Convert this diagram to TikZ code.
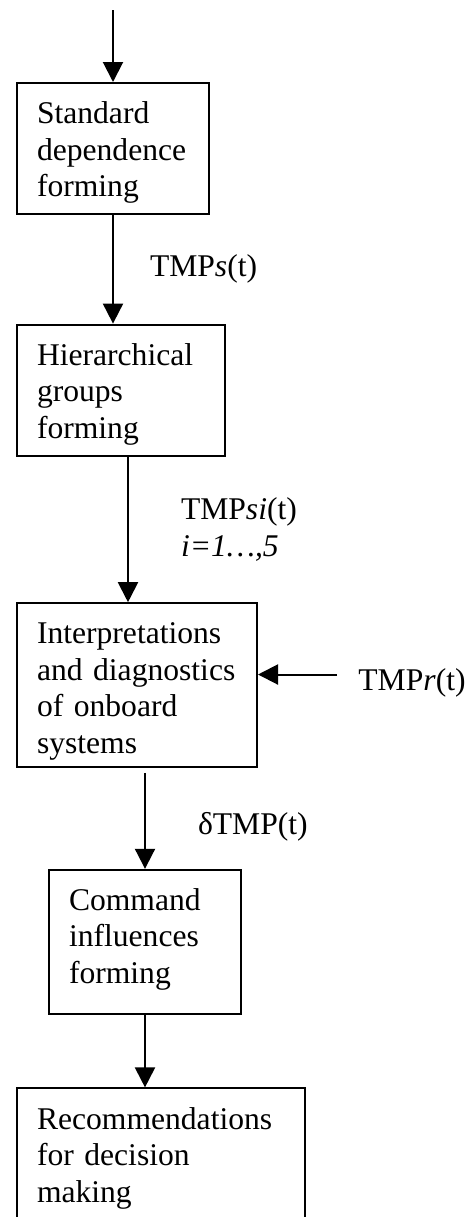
\documentclass[tikz,border=0pt]{standalone}
\usepackage{fontspec}
\setmainfont{Liberation Serif}
\usepackage{tikz}
\usetikzlibrary{arrows.meta, positioning}
\tikzstyle{stage} = [rectangle, draw=black, line width=1pt, anchor=north west, align=left, inner xsep=10pt, inner ysep=5.8pt, text height=14.5pt, font=\fontsize{15.8pt}{18.25pt}\selectfont]
\tikzstyle{sig} = [inner sep=0pt, align=left, font=\fontsize{15.8pt}{18.25pt}\selectfont]
\tikzstyle{arrow} = [line width=1pt, -{Triangle[width=10pt, length=10pt]}]

\begin{document}
\begin{tikzpicture}
		\useasboundingbox (0,0) rectangle (235pt,-608.5pt);
		\clip (0,0) rectangle (235pt,-608.5pt);
		
		\node (standard) [stage, text width=76pt, text depth=39.2pt] at (8pt,-41pt) {Standard\\dependence\\forming};
		
		\node (groups) [stage, text width=84pt, text depth=39.7pt, below=54.5pt of standard.south west, anchor=north west] {Hierarchical\\groups\\forming};
		
		\node (diag) [stage, text width=100pt, text depth=55.7pt, below=72.5pt of groups.south west, anchor=north west] {Interpretations\\and diagnostics\\of onboard\\systems};
		
		\node (command) [stage, text width=76pt, text depth=46.2pt, below=50.5pt of diag.south west, anchor=north west, xshift=16pt] {Command\\influences\\forming};
		
		\node (recommend) [stage, text width=124pt, text depth=65pt, below=36pt of command.south west, anchor=north west, xshift=-16pt] {Recommendations\\for decision\\making};
		
		\coordinate (input) at ([yshift=36pt]standard.north);
		\coordinate (split) at ([xshift=56pt]groups.south west);
		\coordinate (rsrc) at ([xshift=39.5pt, yshift=5.25pt]diag.east);
		\node (tmpr) [sig, anchor=base west] at ([xshift=10.5pt, yshift=-8pt]rsrc) {TMP\textit{r}(t)};
		
		\draw [arrow] (input) -- (standard.north);
		\draw [arrow] (standard.south) -- node[sig, anchor=west, xshift=18pt] {TMP\textit{s}(t)} (standard.south |- groups.north);
		\draw [arrow] (split) -- node[sig, anchor=west, xshift=26pt] {TMP\textit{si}(t)\\\textit{i=1\ldots,5}} (split |- diag.north);
		\draw [arrow] (rsrc) -- (rsrc -| diag.east);
		\draw [arrow] ([yshift=-2.5pt]command.north |- diag.south) -- node[sig, anchor=west, xshift=26pt, yshift=-3pt] {δTMP(t)} (command.north);
		\draw [arrow] (command.south) -- (command.south |- recommend.north);
		
\end{tikzpicture}
\end{document}
